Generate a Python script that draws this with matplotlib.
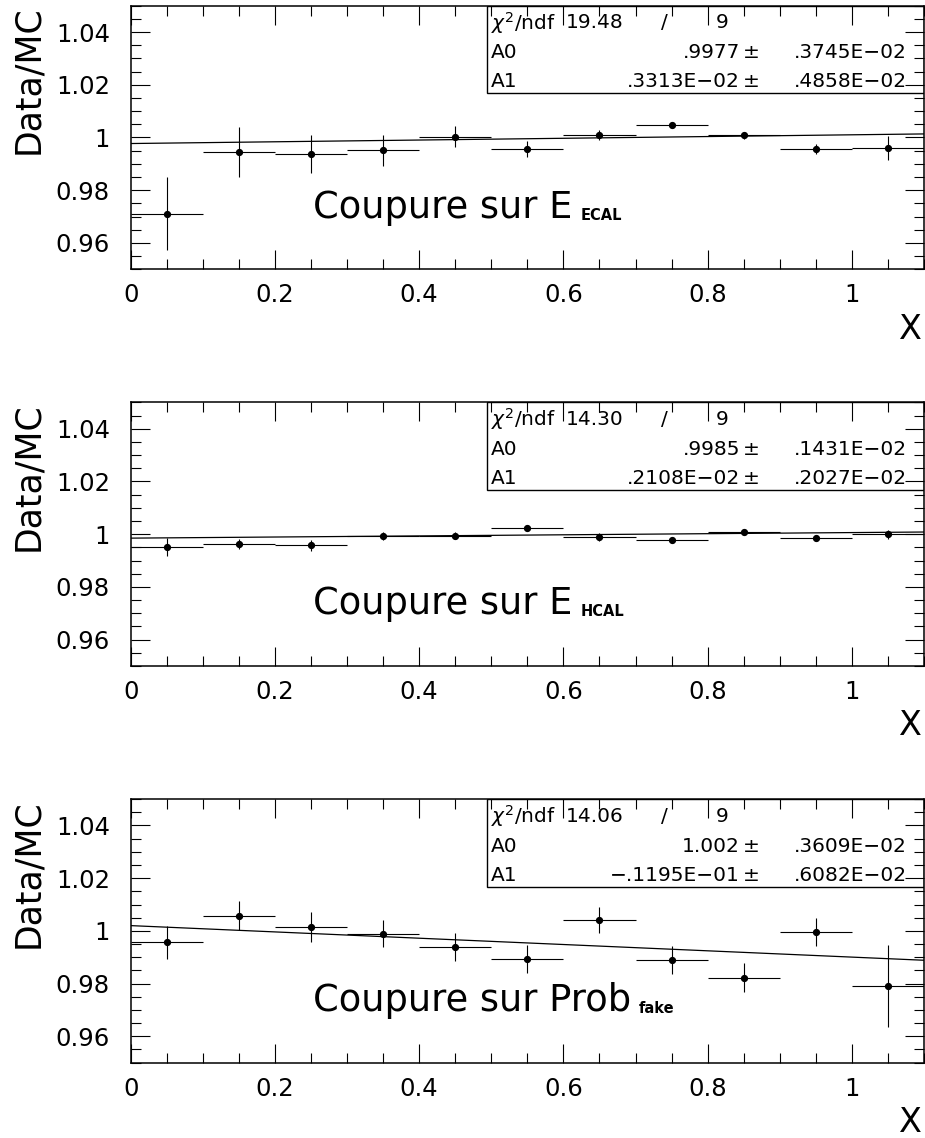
import matplotlib
matplotlib.use("Agg")
import matplotlib.pyplot as plt
from matplotlib.ticker import MultipleLocator, FixedLocator, FixedFormatter
from matplotlib.patches import Rectangle
import numpy as np

plt.rcParams['font.family'] = ['DejaVu Sans']
plt.rcParams['mathtext.fontset'] = 'dejavusans'

# ---------------- data ----------------
x_centers = [0.05, 0.15, 0.25, 0.35, 0.45, 0.55, 0.65, 0.75, 0.85, 0.95, 1.05]
x_halfwidth = [0.05] * 11

ecal_ratio = [0.9711, 0.9944, 0.9936, 0.9951, 1.0003, 0.9956, 1.0009, 1.0046, 1.0009, 0.9956, 0.9961]
ecal_err = [0.0139, 0.0094, 0.0072, 0.0058, 0.0040, 0.0030, 0.0020, 0.0011, 0.0013, 0.0019, 0.0045]

hcal_ratio = [0.9952, 0.9962, 0.9958, 0.9994, 0.9994, 1.0024, 0.9990, 0.9977, 1.0009, 0.9984, 1.0000]
hcal_err = [0.0035, 0.0020, 0.0020, 0.0015, 0.0014, 0.0010, 0.0014, 0.0010, 0.0010, 0.0010, 0.0017]

fake_ratio = [0.9956, 1.0057, 1.0015, 0.9990, 0.9939, 0.9894, 1.0041, 0.9889, 0.9823, 0.9996, 0.9790]
fake_err = [0.0062, 0.0055, 0.0056, 0.0052, 0.0053, 0.0053, 0.0050, 0.0054, 0.0055, 0.0053, 0.0155]

fit_A0 = [0.9977, 0.9985, 1.002]
fit_A1 = [0.003313, 0.002108, -0.01195]

chi2_vals = ["19.48", "14.30", "14.06"]
ndf_vals = ["9", "9", "9"]
A0_text = [".9977", ".9985", "1.002"]
A0_err_text = [".3745E\u221202", ".1431E\u221202", ".3609E\u221202"]
A1_text = [".3313E\u221202", ".2108E\u221202", "\u2212.1195E\u221201"]
A1_err_text = [".4858E\u221202", ".2027E\u221202", ".6082E\u221202"]

main_labels = ["Coupure sur E", "Coupure sur E", "Coupure sur Prob"]
sub_labels = ["ECAL", "HCAL", "fake"]

x_ticks = [0, 0.2, 0.4, 0.6, 0.8, 1.0]
x_ticklabels = ["0", "0.2", "0.4", "0.6", "0.8", "1"]
y_ticks = [0.96, 0.98, 1.00, 1.02, 1.04]
y_ticklabels = ["0.96", "0.98", "1", "1.02", "1.04"]

series = [(ecal_ratio, ecal_err), (hcal_ratio, hcal_err), (fake_ratio, fake_err)]

# ---------------- figure ----------------
fig = plt.figure(figsize=(9.25, 11.38), dpi=100)
bottoms = [0.7634, 0.4148, 0.0662]
axes = []
for i, b in enumerate(bottoms):
    ax = fig.add_axes([0.1413, b, 0.8576, 0.2316])
    axes.append(ax)
    y, e = series[i]
    ax.errorbar(x_centers, y, xerr=x_halfwidth, yerr=e, fmt='o', color='black',
                ms=4.2, elinewidth=0.8, capsize=0, zorder=4)
    xl = np.array([0.0, 1.1])
    ax.plot(xl, fit_A0[i] + fit_A1[i] * xl, color='black', lw=0.9, zorder=3)

    ax.set_xlim(0, 1.1)
    ax.set_ylim(0.95, 1.05)
    ax.xaxis.set_major_locator(FixedLocator(x_ticks))
    ax.xaxis.set_major_formatter(FixedFormatter(x_ticklabels))
    ax.xaxis.set_minor_locator(MultipleLocator(0.05))
    ax.yaxis.set_major_locator(FixedLocator(y_ticks))
    ax.yaxis.set_major_formatter(FixedFormatter(y_ticklabels))
    ax.yaxis.set_minor_locator(MultipleLocator(0.005))
    ax.tick_params(which='both', direction='in', top=True, right=True, width=0.8, color='black')
    ax.tick_params(which='major', length=14)
    ax.tick_params(which='minor', length=7)
    ax.tick_params(axis='x', which='major', labelsize=17.5, pad=10)
    ax.tick_params(axis='y', which='major', labelsize=17.5, pad=15)
    for sp in ax.spines.values():
        sp.set_linewidth(1.1)

    # axis titles
    ax.text(-0.1295, 1.0, "Data/MC", rotation=90, ha='center', va='top',
            fontsize=25, transform=ax.transAxes)
    ax.text(0.9975, -0.2276, "X", ha='right', va='center', fontsize=24,
            transform=ax.transAxes)

    # stat box
    bx0, by0 = 0.449, 0.668
    ax.add_patch(Rectangle((bx0, by0), 1.0 - bx0, 1.0 - by0, transform=ax.transAxes,
                           facecolor='none', edgecolor='black', lw=1.0, zorder=2))
    rows = [0.935, 0.822, 0.712]
    fs = 14.5
    ax.text(0.454, rows[0], r"$\chi^2$/ndf", ha='left', va='center', fontsize=fs,
            transform=ax.transAxes, zorder=5)
    ax.text(0.548, rows[0], chi2_vals[i], ha='left', va='center', fontsize=fs,
            transform=ax.transAxes, zorder=5)
    ax.text(0.673, rows[0], "/", ha='center', va='center', fontsize=fs,
            transform=ax.transAxes, zorder=5)
    ax.text(0.745, rows[0], ndf_vals[i], ha='center', va='center', fontsize=fs,
            transform=ax.transAxes, zorder=5)
    for r, lab, val, err in [(rows[1], "A0", A0_text[i], A0_err_text[i]),
                             (rows[2], "A1", A1_text[i], A1_err_text[i])]:
        ax.text(0.454, r, lab, ha='left', va='center', fontsize=fs,
                transform=ax.transAxes, zorder=5)
        ax.text(0.768, r, val, ha='right', va='center', fontsize=fs,
                transform=ax.transAxes, zorder=5)
        ax.text(0.782, r, "\u00b1", ha='center', va='center', fontsize=fs,
                transform=ax.transAxes, zorder=5)
        ax.text(0.978, r, err, ha='right', va='center', fontsize=fs,
                transform=ax.transAxes, zorder=5)

    ax._main_label = ax.text(0.2298, 0.1957, main_labels[i], ha='left', va='baseline',
                             fontsize=26.5, transform=ax.transAxes, zorder=5)

fig.canvas.draw()
renderer = fig.canvas.get_renderer()
for i, ax in enumerate(axes):
    t = ax._main_label
    bb = t.get_window_extent(renderer)
    x_disp = bb.x1 + 8
    base_disp = ax.transAxes.transform((0.2298, 0.1957))
    y_disp = base_disp[1] - 2
    xa, ya = ax.transAxes.inverted().transform((x_disp, y_disp))
    ax.text(xa, ya, sub_labels[i], ha='left', va='baseline', fontsize=10.5,
            fontweight='bold', transform=ax.transAxes, zorder=5)

fig.savefig("out.png", dpi=100, facecolor='white')
